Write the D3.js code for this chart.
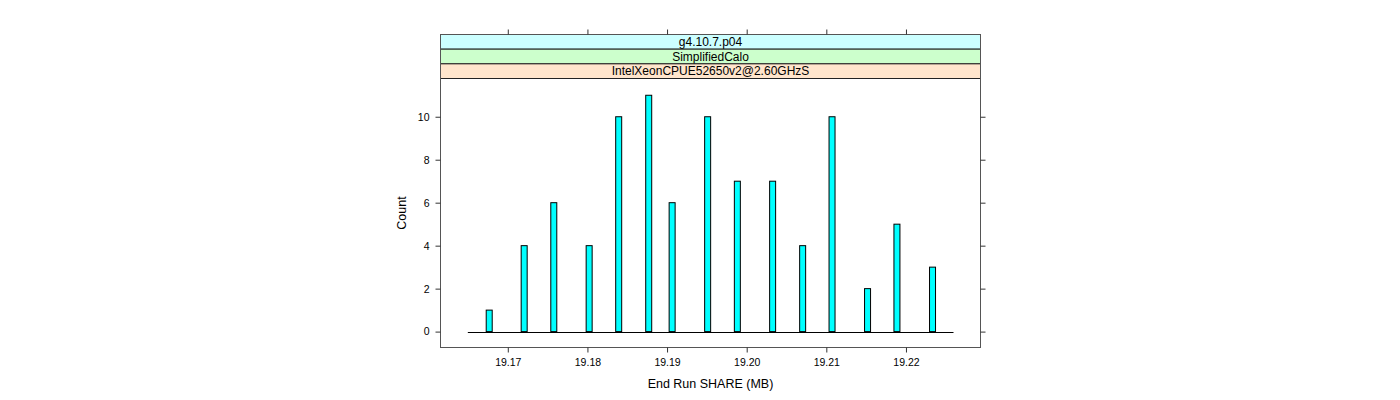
<!DOCTYPE html>
<html>
<head>
<meta charset="utf-8">
<script src="https://cdn.jsdelivr.net/npm/d3@7"></script>
<style>
  body { margin: 0; background: #fff; }
  svg { display: block; }
  text { font-family: "Liberation Sans", Arial, sans-serif; }
</style>
</head>
<body>
<svg id="chart" width="1400" height="400"></svg>
<script>
// ---- data ----
const binStarts = [19.16729, 19.17168, 19.17540, 19.17984, 19.18355, 19.18732, 19.19026, 19.19472,
                   19.19845, 19.20288, 19.20665, 19.21034, 19.21480, 19.21849, 19.22296];
const counts    = [1, 4, 6, 4, 10, 11, 6, 10, 7, 7, 4, 10, 2, 5, 3];
const binWidth  = 0.000753;
const histRange = [19.16498, 19.22597];
const xTicks    = [19.17, 19.18, 19.19, 19.20, 19.21, 19.22];
const yTicks    = [0, 2, 4, 6, 8, 10];
const strips    = ["g4.10.7.p04", "SimplifiedCalo", "IntelXeonCPUE52650v2@2.60GHzS"];
const stripColors = ["#ccffff", "#ccffcc", "#ffe5cc"];
const xLabel = "End Run SHARE (MB)";
const yLabel = "Count";

// ---- layout ----
const pLeft = 440.5, pRight = 980.5, pTop = 34.5, panelTop = 78.5, pBottom = 347.5;
const stripH = (panelTop - pTop) / strips.length;

const svg = d3.select("#chart");
const x = d3.scaleLinear().domain([19.16155, 19.22936]).range([pLeft, pRight]);
const y = d3.scaleLinear().domain([-0.74, 11.78]).range([pBottom, panelTop]);

// strips (top strip first)
strips.forEach((s, i) => {
  const y0 = pTop + i * stripH;
  svg.append("rect").attr("x", pLeft).attr("y", y0).attr("width", pRight - pLeft).attr("height", stripH)
    .attr("fill", stripColors[i]).attr("stroke", "#222").attr("stroke-width", 1);
  svg.append("text").attr("x", (pLeft + pRight) / 2).attr("y", y0 + stripH / 2 + 4.3)
    .attr("text-anchor", "middle").attr("font-size", 12).attr("fill", "#000").text(s);
});

// baseline of histogram (zero-count bins)
svg.append("line")
  .attr("x1", x(histRange[0])).attr("x2", x(histRange[1]))
  .attr("y1", Math.round(y(0)) + 0.5).attr("y2", Math.round(y(0)) + 0.5)
  .attr("stroke", "#000").attr("stroke-width", 1);

// bars
svg.append("g").selectAll("rect").data(binStarts).join("rect")
  .attr("x", (d) => x(d))
  .attr("width", (d) => x(d + binWidth) - x(d))
  .attr("y", (d, i) => y(counts[i]))
  .attr("height", (d, i) => y(0) - y(counts[i]))
  .attr("fill", "#00ffff").attr("stroke", "#000").attr("stroke-width", 1);

// panel frame
svg.append("rect").attr("x", pLeft).attr("y", pTop).attr("width", pRight - pLeft).attr("height", pBottom - pTop)
  .attr("fill", "none").attr("stroke", "#555").attr("stroke-width", 1);

// x axes (bottom labelled, top ticks only)
const xb = d3.axisBottom(x).tickValues(xTicks).tickFormat(d3.format(".2f")).tickSize(5).tickPadding(6);
const gxb = svg.append("g").attr("transform", `translate(0,${pBottom})`).call(xb);
const xt = d3.axisTop(x).tickValues(xTicks).tickFormat("").tickSize(5);
const gxt = svg.append("g").attr("transform", `translate(0,${pTop})`).call(xt);

// y axes (left labelled, right ticks only)
const yl = d3.axisLeft(y).tickValues(yTicks).tickFormat(d3.format("d")).tickSize(5).tickPadding(6);
const gyl = svg.append("g").attr("transform", `translate(${pLeft},0)`).call(yl);
const yr = d3.axisRight(y).tickValues(yTicks).tickFormat("").tickSize(5);
const gyr = svg.append("g").attr("transform", `translate(${pRight},0)`).call(yr);

[gxb, gxt, gyl, gyr].forEach(g => {
  g.select(".domain").remove();
  g.selectAll(".tick line").attr("stroke", "#333");
  g.selectAll(".tick text").attr("font-size", 10.5).attr("fill", "#000")
    .attr("font-family", "'Liberation Sans', Arial, sans-serif");
});

// axis titles
svg.append("text").attr("x", (pLeft + pRight) / 2).attr("y", 388)
  .attr("text-anchor", "middle").attr("font-size", 12.5).text(xLabel);
svg.append("text").attr("transform", `translate(406,${(panelTop + pBottom) / 2}) rotate(-90)`)
  .attr("text-anchor", "middle").attr("font-size", 12.5).text(yLabel);
</script>
</body>
</html>
